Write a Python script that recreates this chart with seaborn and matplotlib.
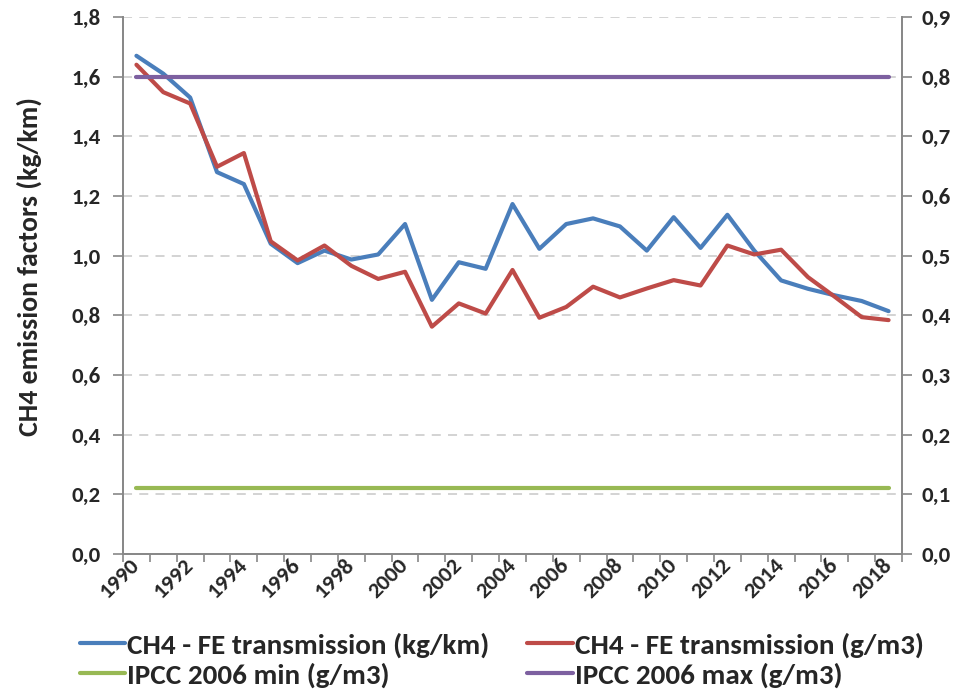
import matplotlib
matplotlib.use("Agg")
import matplotlib.pyplot as plt
import seaborn as sns
import pandas as pd
from matplotlib.ticker import FuncFormatter, MultipleLocator

years = list(range(1990, 2019))
fe_kgkm = [1.67, 1.61, 1.53, 1.28, 1.24, 1.04, 0.975, 1.017, 0.987, 1.004, 1.106,
           0.852, 0.978, 0.956, 1.173, 1.023, 1.106, 1.125, 1.098, 1.017, 1.129,
           1.026, 1.137, 1.017, 0.917, 0.889, 0.867, 0.848, 0.814]
fe_gm3 = [0.82, 0.774, 0.755, 0.649, 0.672, 0.524, 0.492, 0.517, 0.483, 0.461, 0.473,
          0.381, 0.420, 0.403, 0.476, 0.396, 0.414, 0.448, 0.430, 0.445, 0.459,
          0.450, 0.517, 0.502, 0.510, 0.464, 0.431, 0.397, 0.392]
ipcc_min = [0.11] * len(years)
ipcc_max = [0.80] * len(years)

labels = ["CH4 - FE transmission (kg/km)", "CH4 - FE transmission (g/m3)",
          "IPCC 2006 min (g/m3)", "IPCC 2006 max (g/m3)"]
colors = ["#4A7EBB", "#BE4B48", "#98B954", "#7D60A0"]

sns.set_theme(style="white")
plt.rcParams['font.family'] = ['Carlito', 'DejaVu Sans']
plt.rcParams['font.weight'] = 'bold'

fig = plt.figure(figsize=(9.6, 6.93), dpi=100)
ax = fig.add_axes([123/960, 1-554/693, (902-123)/960, (554-17)/693])
ax2 = ax.twinx()

df1 = pd.DataFrame({"year": years, "v": fe_kgkm})
sns.lineplot(data=df1, x="year", y="v", ax=ax, color=colors[0], lw=3.0, label=labels[0], legend=False)
df2 = pd.DataFrame({"year": years, "v": fe_gm3})
sns.lineplot(data=df2, x="year", y="v", ax=ax2, color=colors[1], lw=3.0, label=labels[1], legend=False)
df3 = pd.DataFrame({"year": years, "v": ipcc_min})
sns.lineplot(data=df3, x="year", y="v", ax=ax2, color=colors[2], lw=3.0, label=labels[2], legend=False)
df4 = pd.DataFrame({"year": years, "v": ipcc_max})
sns.lineplot(data=df4, x="year", y="v", ax=ax2, color=colors[3], lw=3.0, label=labels[3], legend=False)

ax.set_xlim(1989.5, 2018.5)
ax.set_ylim(0, 1.8)
ax2.set_ylim(0, 0.9)
ax.yaxis.set_major_locator(MultipleLocator(0.2))
ax2.yaxis.set_major_locator(MultipleLocator(0.1))
fmt = FuncFormatter(lambda v, p: f"{v:.1f}".replace(".", ","))
ax.yaxis.set_major_formatter(fmt)
ax2.yaxis.set_major_formatter(fmt)

ax.set_xticks([y for y in years if y % 2 == 0])
ax.set_xticks([y - 0.5 for y in years] + [2018.5], minor=True)
ax.tick_params(axis='x', which='major', length=0, pad=6)
ax.tick_params(axis='x', which='minor', length=6, width=1.2, color='#888888', direction='out', bottom=True)
for lab in ax.get_xticklabels():
    lab.set_rotation(45)
    lab.set_ha('right')
    lab.set_va('center')
    lab.set_rotation_mode('anchor')
    lab.set_fontsize(16.5)
    lab.set_fontweight('bold')

ax.tick_params(axis='y', which='major', length=7, width=1.2, color='#888888', direction='out', left=True, labelsize=16.5, pad=9)
ax2.tick_params(axis='y', which='major', length=7, width=1.2, color='#888888', direction='out', right=True, labelsize=16.5, pad=7)
for lab in ax.get_yticklabels() + ax2.get_yticklabels():
    lab.set_fontweight('bold')

ax.set_xlabel("")
ax.set_ylabel("CH4 emission factors (kg/km)", fontsize=20, fontweight='bold')
ax.yaxis.set_label_coords(-0.104, 0.535)
ax2.set_ylabel("")

ax.grid(axis='y', color='#D0D0D0', linestyle=(0, (5, 4)), lw=1.3)
ax.set_axisbelow(True)
for a in (ax, ax2):
    a.spines['top'].set_visible(False)
    for s in ('left', 'right', 'bottom'):
        a.spines[s].set_color('#888888')
        a.spines[s].set_linewidth(1.3)

h1, l1 = ax.get_legend_handles_labels()
h2, l2 = ax2.get_legend_handles_labels()
hs = h1 + h2
order = [0, 2, 1, 3]
fig.legend([hs[i] for i in order], [labels[i] for i in order], ncol=2,
           loc='center left', bbox_to_anchor=(80/960, 1-660/693), frameon=False,
           handlelength=1.55, handletextpad=0.07, columnspacing=1.3,
           labelspacing=0.15, borderpad=0, borderaxespad=0,
           prop={'weight': 'bold', 'size': 21})

fig.savefig("out.png", dpi=100)
